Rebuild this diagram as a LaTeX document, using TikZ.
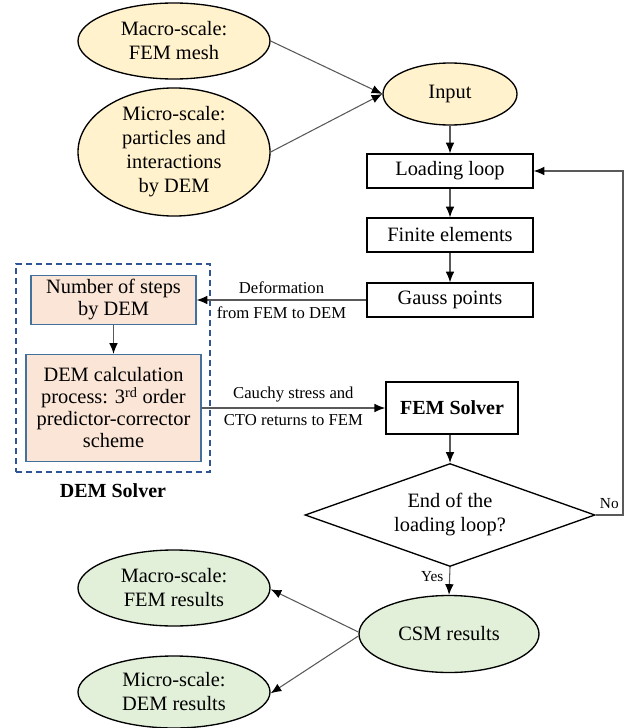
\documentclass[tikz,border=0pt]{standalone}
\usepackage{fontspec}
\setmainfont{Liberation Serif}
\usetikzlibrary{shapes.geometric,arrows.meta}
\definecolor{yel}{HTML}{FFF2CC}
\definecolor{grn}{HTML}{E2F0D9}
\definecolor{pch}{HTML}{FBE5D6}
\definecolor{bbord}{HTML}{41719C}
\definecolor{bdash}{HTML}{2F5597}
\definecolor{lin}{HTML}{595959}
\def\pxu{0.75pt}
\begin{document}
\begin{tikzpicture}[x=0.75pt,y=-0.75pt,
  every node/.style={font=\fontsize{15.3}{18}\selectfont, align=center},
  ell/.style={ellipse, draw=black, line width=1pt, inner sep=0pt},
  box/.style={rectangle, draw=black, line width=1pt, inner sep=0pt, minimum width=166*\pxu, minimum height=34*\pxu},
  demb/.style={rectangle, draw=bbord, fill=pch, line width=1pt, inner sep=0pt, font=\fontsize{15.3}{16.5}\selectfont},
  arr/.style={draw=lin, line width=0.8pt, -{Latex[length=8pt,width=6.5pt,color=black]}},
  lbl/.style={font=\fontsize{12.5}{16}\selectfont},
  yn/.style={font=\fontsize{11.5}{13}\selectfont},
]
\useasboundingbox (0,0) rectangle (624,728);

% input ellipses
\node[ell, fill=yel, minimum width=192*\pxu, minimum height=76*\pxu] (macro) at (174,41) {Macro-scale:\\FEM mesh};
\node[ell, fill=yel, minimum width=192*\pxu, minimum height=112*\pxu] (micro) at (174,152) {Micro-scale:\\particles and\\interactions\\by DEM};
\node[ell, fill=yel, minimum width=134*\pxu, minimum height=62*\pxu] (input) at (450,94) {Input};

% main chain
\node[box] (loop) at (450,171) {Loading loop};
\node[box] (fe) at (450,235) {Finite elements};
\node[box] (gauss) at (450,300) {Gauss points};
\node[rectangle, draw=black, line width=1.3pt, inner sep=0pt, minimum width=132*\pxu, minimum height=52*\pxu, font=\fontsize{15}{18}\bfseries\selectfont] (fem) at (452,408) {FEM Solver};
\node[diamond, draw=black, line width=1pt, inner sep=0pt, aspect=2.8, minimum width=290*\pxu, minimum height=103*\pxu] (dia) at (450,515) {End of the\\loading loop?};

% results
\node[ell, fill=grn, minimum width=180*\pxu, minimum height=77*\pxu] (csm) at (449,634) {CSM results};
\node[ell, fill=grn, minimum width=192*\pxu, minimum height=76*\pxu] (mres) at (174,588) {Macro-scale:\\FEM results};
\node[ell, fill=grn, minimum width=192*\pxu, minimum height=72*\pxu] (dres) at (174,692) {Micro-scale:\\DEM results};

% DEM solver group
\node[rectangle, draw=bdash, dash pattern=on 4.5pt off 3pt, line width=1pt, minimum width=194*\pxu, minimum height=208*\pxu, inner sep=0pt] (grp) at (113,368) {};
\node[demb, minimum width=165*\pxu, minimum height=49*\pxu] (dem1) at (113.5,300) {Number of steps\\by DEM};
\node[demb, minimum width=175*\pxu, minimum height=107*\pxu] (dem2) at (113.5,408) {DEM calculation\\process: 3\textsuperscript{rd} order\\predictor-corrector\\scheme};
\node[font=\fontsize{15}{18}\bfseries\selectfont] (demlbl) at (113,491) {DEM Solver};

% connectors
\draw[arr] (macro.east) -- (input.west);
\draw[arr] (micro.east) -- (input.west);
\draw[arr] (input.south) -- (loop.north);
\draw[arr] (loop.south) -- (fe.north);
\draw[arr] (fe.south) -- (gauss.north);
\draw[arr] (gauss.west) -- node[lbl, above=1pt] {Deformation} node[lbl, below=1pt] {from FEM to DEM} (dem1.east);
\draw[arr] (dem1.south) -- (dem2.north);
\draw[arr] (dem2.east) -- node[lbl, above=1pt] {Cauchy stress and} node[lbl, below=1pt] {CTO returns to FEM} (fem.west);
\draw[arr] (fem.south -| dia.north) -- (dia.north);
\coordinate (lr) at (623,171);
\draw[arr] (dia.east) -- node[yn, above=1pt] {No} (dia.east -| lr) -- (lr) -- (loop.east);
\draw[arr] (dia.south) -- node[yn, left=1pt, pos=0.35] {Yes} (csm.north);
\draw[arr] ([yshift=1.5pt]csm.west) -- ([yshift=-1pt]mres.east);
\draw[arr] ([yshift=-1.5pt]csm.west) -- ([yshift=-1pt]dres.east);
\end{tikzpicture}
\end{document}
